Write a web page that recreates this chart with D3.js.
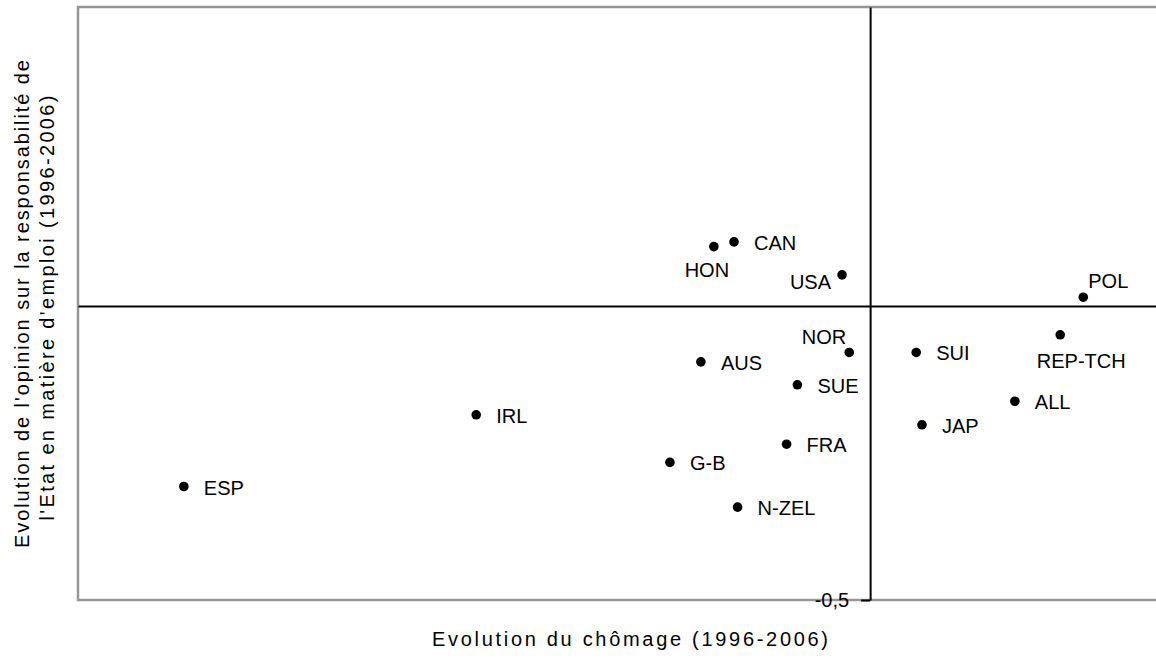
<!DOCTYPE html>
<html>
<head>
<meta charset="utf-8">
<script src="https://cdn.jsdelivr.net/npm/d3@7"></script>
<style>
  body { margin: 0; background: #fff; }
  text { font-family: "Liberation Sans", Arial, sans-serif; fill: #000; }
</style>
</head>
<body>
<div id="vis"></div>
<script>
// data
var countries = ["ESP", "IRL", "G-B", "AUS", "HON", "CAN", "N-ZEL", "FRA", "SUE", "USA", "NOR", "SUI", "JAP", "ALL", "REP-TCH", "POL"];
var chomage   = [-9.53, -5.47, -2.78, -2.35, -2.17, -1.89, -1.84, -1.16, -1.01, -0.39, -0.29, 0.64, 0.72, 2.01, 2.64, 2.96];
var opinion   = [-0.307, -0.185, -0.266, -0.095, 0.101, 0.109, -0.342, -0.235, -0.134, 0.053, -0.079, -0.079, -0.202, -0.162, -0.049, 0.015];
var yTicks = [-0.5];

// label placement (dx, dy, anchor) around each dot
var labelPos = {
  "HON":     [-7, 23, "middle"],
  "USA":     [-11, 7, "end"],
  "NOR":     [-3, -15, "end"],
  "POL":     [5, -16, "start"],
  "REP-TCH": [21, 26, "middle"]
};

var w = 1156;
var h = 660;
var pLeft = 78, pRight = 1156, pTop = 7, pBottom = 600;

var svg = d3.select("#vis")
            .append("svg")
            .attr("width", w)
            .attr("height", h);

var x_scale = d3.scaleLinear()
                .domain([-11, 3.97])
                .range([pLeft, pRight]);

var y_scale = d3.scaleLinear()
                .domain([-0.5, 0.5085])
                .range([pBottom, pTop]);

// french decimal comma, plain hyphen for minus
var fr = d3.formatLocale({decimal: ",", thousands: " ", grouping: [3], currency: ["", " €"], minus: "-"});

// frame
svg.append("rect")
   .attr("x", pLeft)
   .attr("y", pTop)
   .attr("width", pRight - pLeft + 4)
   .attr("height", pBottom - pTop)
   .attr("fill", "none")
   .attr("stroke", "#969696")
   .attr("stroke-width", 2.5);

// horizontal axis through 0
var xAxis = svg.append("g")
   .attr("transform", `translate(0,${y_scale(0)})`)
   .call(d3.axisBottom(x_scale).tickValues([]).tickSizeOuter(0));
xAxis.select(".domain").attr("stroke", "#000").attr("stroke-width", 2);

// vertical axis through 0
var yAxis = svg.append("g")
   .attr("transform", `translate(${x_scale(0)},0)`)
   .call(d3.axisLeft(y_scale).tickValues(yTicks).tickSize(9).tickSizeOuter(0)
           .tickFormat(fr.format(".1f")));
yAxis.select(".domain").attr("stroke", "#000").attr("stroke-width", 2);
yAxis.selectAll(".tick line").attr("stroke", "#000").attr("stroke-width", 2);
yAxis.selectAll(".tick text")
     .attr("font-family", "Liberation Sans, Arial, sans-serif")
     .attr("font-size", 20)
     .attr("x", -21)
     .attr("dy", "0.3em");

// points
var data = countries.map((c, i) => ({name: c, x: chomage[i], y: opinion[i]}));

var g = svg.append("g");
var pts = g.selectAll("g.pt")
   .data(data)
   .enter()
   .append("g")
   .attr("class", "pt");

pts.append("circle")
   .attr("cx", d => x_scale(d.x))
   .attr("cy", d => y_scale(d.y))
   .attr("r", 4.8)
   .attr("fill", "#000");

pts.append("text")
   .attr("x", d => x_scale(d.x) + (labelPos[d.name] ? labelPos[d.name][0] : 20))
   .attr("y", d => y_scale(d.y) + (labelPos[d.name] ? labelPos[d.name][1] : 1))
   .attr("dy", "0.35em")
   .attr("text-anchor", d => labelPos[d.name] ? labelPos[d.name][2] : "start")
   .attr("font-size", 20)
   .text(d => d.name);

// axis titles
svg.append("text")
   .attr("x", 630)
   .attr("y", 646)
   .attr("text-anchor", "middle")
   .attr("font-size", 20)
   .attr("textLength", 396)
   .attr("lengthAdjust", "spacing")
   .text("Evolution du chômage (1996-2006)");

svg.append("text")
   .attr("transform", "translate(29,304) rotate(-90)")
   .attr("text-anchor", "middle")
   .attr("font-size", 20)
   .attr("textLength", 488)
   .attr("lengthAdjust", "spacing")
   .text("Evolution de l'opinion sur la responsabilité de");

svg.append("text")
   .attr("transform", "translate(54,308) rotate(-90)")
   .attr("text-anchor", "middle")
   .attr("font-size", 20)
   .attr("textLength", 425)
   .attr("lengthAdjust", "spacing")
   .text("l'Etat en matière d'emploi (1996-2006)");
</script>
</body>
</html>
